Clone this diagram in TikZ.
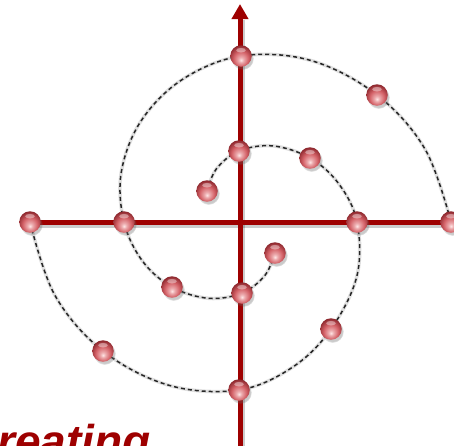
\documentclass[tikz,border=0pt]{standalone}
\usepackage{fontspec}
\setmainfont{Liberation Sans}
\usetikzlibrary{arrows.meta,shadows,fadings}
\definecolor{axisred}{RGB}{158,0,0}
\definecolor{ballhi}{RGB}{255,230,230}
\definecolor{ballmid}{RGB}{212,98,104}
\definecolor{balledge}{RGB}{135,34,40}
\pgfdeclareradialshading{glassball}{\pgfpoint{0bp}{-10bp}}{color(0bp)=(ballhi); color(6bp)=(ballhi!55!ballmid); color(17bp)=(ballmid); color(30bp)=(balledge); color(50bp)=(balledge)}
\pgfdeclarelayer{back}
\pgfsetlayers{back,main}
\tikzset{
  ball/.style={circle, minimum size=21.5pt, inner sep=0pt, shading=glassball,
    circular drop shadow={shadow xshift=1.5pt, shadow yshift=-2.5pt, shadow scale=1.05, opacity=0.35, fill=black!60},
    path picture={\fill[white,opacity=0.4] ([yshift=5.8pt]path picture bounding box.center) ellipse (4.8pt and 2.3pt);}},
  axisline/.style={draw=axisred, line width=5pt},
  axisshadow/.style={draw=black, opacity=0.2, line width=5pt},
  spiral/.style={draw=black!85, line width=1.5pt, dash pattern=on 4pt off 3pt},
  spiralshadow/.style={draw=black, opacity=0.12, line width=3.5pt},
  titletext/.style={anchor=base west, inner sep=0pt, font=\bfseries\itshape\fontsize{46}{52}\selectfont, text=axisred}
}
\begin{document}
\begin{tikzpicture}[x=1pt, y=-1pt]
\useasboundingbox (0,0) rectangle (454,445);
\clip (0,0) rectangle (454,445);
% balls, spiral A
\node[ball] (a1) at (207,191) {};
\node[ball] (a2) at (239,151) {};
\node[ball] (a3) at (310,158) {};
\node[ball] (a4) at (357,222) {};
\node[ball] (a5) at (331,329) {};
\node[ball] (a6) at (239,390) {};
\node[ball] (a7) at (103,351) {};
\node[ball] (a8) at (30,222) {};
% guide points of spiral A
\coordinate (m1) at (216.5,168.7);
\coordinate (m2) at (272.9,145.9);
\coordinate (m3) at (338.7,183.7);
\coordinate (m4) at (356.9,276.0);
\coordinate (m5) at (292.8,367.0);
\coordinate (m6) at (169.0,385.3);
\coordinate (m7) at (54.9,295.3);
% balls, spiral B
\node[ball] (b1) at (275,253) {};
\node[ball] (b2) at (242,293) {};
\node[ball] (b3) at (172,287) {};
\node[ball] (b4) at (124,222) {};
\coordinate (bm) at (141,121);
\node[ball] (b5) at (241,56) {};
\node[ball] (b6) at (377,95) {};
\node[ball] (b7) at (451,222) {};
% guide points of spiral B
\coordinate (n1) at (264.9,275.4);
\coordinate (n2) at (208.6,298.3);
\coordinate (n3) at (142.5,261.1);
\coordinate (n4) at (121.3,172.1);
\coordinate (n5) at (182.3,79.5);
\coordinate (n6) at (311.0,60.5);
\coordinate (n7) at (425.2,149.4);
% axis ends
\coordinate (xl) at (30,222);
\coordinate (xr) at (460,222);
\coordinate (yb) at (240,450);
\coordinate (yt) at (240,4);
\coordinate (ys) at (240,19);
\begin{pgfonlayer}{back}
  \draw[axisshadow] ([shift={(1pt,-3pt)}]xl) -- ([shift={(1pt,-3pt)}]xr);
  \draw[axisshadow] ([shift={(2pt,-1pt)}]yb) -- ([shift={(2pt,-1pt)}]ys);
  \draw[axisline] (xl) -- (xr);
  \draw[axisline, -{Triangle[length=15pt,width=16pt]}] (yb) -- (yt);
  \begin{scope}[shift={(1.5,2)}]
    \draw[spiralshadow] plot[smooth, tension=0.6] coordinates {(a1) (m1) (a2) (m2) (a3) (m3) (a4) (m4) (a5) (m5) (a6) (m6) (a7) (m7) (a8)};
    \draw[spiralshadow] plot[smooth, tension=0.6] coordinates {(b1) (n1) (b2) (n2) (b3) (n3) (b4) (n4) (bm) (n5) (b5) (n6) (b6) (n7) (b7)};
  \end{scope}
  \draw[spiral] plot[smooth, tension=0.6] coordinates {(a1) (m1) (a2) (m2) (a3) (m3) (a4) (m4) (a5) (m5) (a6) (m6) (a7) (m7) (a8)};
  \draw[spiral] plot[smooth, tension=0.6] coordinates {(b1) (n1) (b2) (n2) (b3) (n3) (b4) (n4) (bm) (n5) (b5) (n6) (b6) (n7) (b7)};
\end{pgfonlayer}
\node[titletext] (title) at (-36,457) {Creating};
\end{tikzpicture}
\end{document}
